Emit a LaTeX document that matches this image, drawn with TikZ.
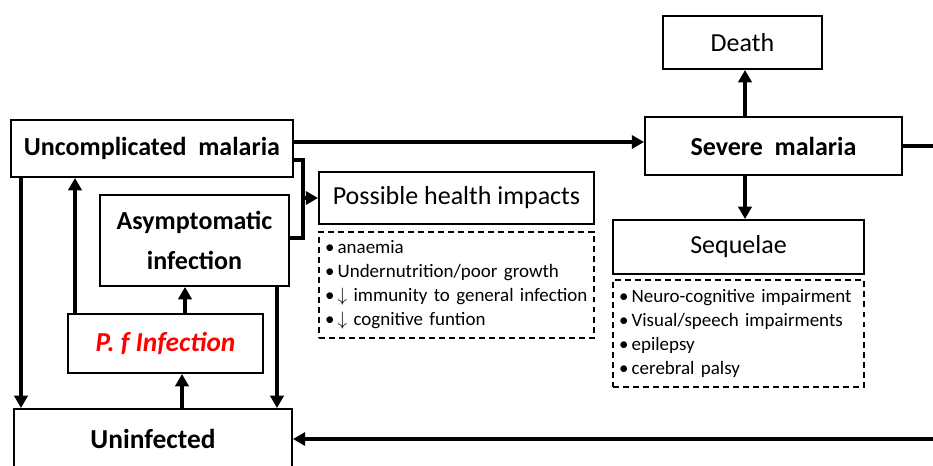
\documentclass[tikz,border=0pt]{standalone}
\usepackage{fontspec}
\setmainfont{Carlito}
\usetikzlibrary{arrows.meta}

\begin{document}
\begin{tikzpicture}[x=0.02cm,y=-0.02cm,
		box/.style={draw,line width=1.1pt,inner sep=0pt,align=center},
		hd/.style={box,font=\fontsize{14.8}{22.7}\selectfont\bfseries},
		tx/.style={box,font=\fontsize{14.8}{18}\selectfont},
		lst/.style={draw,line width=1.1pt,dash pattern=on 3.4pt off 2.3pt,inner xsep=0.12cm,inner ysep=0pt,align=left,font=\fontsize{10.8}{13.6}\selectfont},
		arr/.style={-{Triangle[length=7pt,width=7.5pt]},line width=2.2pt},
		bar/.style={-,line width=2.2pt}]
			\useasboundingbox (0,0) rectangle (933,466);
			\node [hd,minimum width=5.64cm,minimum height=1.14cm] (um) at (152,148.5) {Uncomplicated\ \ malaria};
			\node [hd,minimum width=3.78cm,minimum height=1.82cm] (ai) at (194.5,240.5) {Asymptomatic\\infection};
			\node [hd,minimum width=3.9cm,minimum height=1.18cm,text=red,font=\fontsize{15.6}{18}\selectfont\bfseries\itshape] (pf) at (165.5,343.5) {P.\ f Infection};
			\node [hd,minimum width=5.56cm,minimum height=1.2cm,font=\fontsize{15.6}{18}\selectfont\bfseries] (ui) at (153,439) {Uninfected};
			\node [tx,minimum width=5.5cm,minimum height=1.04cm] (ph) at (456.5,198) {Possible health impacts};
			\node [lst,text width=5.26cm,minimum height=2.12cm] (pl) at (456.5,285) {•\,anaemia\\•\,Undernutrition/poor growth\\•\,$\downarrow$ immunity to general infection\\•\,$\downarrow$ cognitive funtion};
			\node [hd,minimum width=5.14cm,minimum height=1.16cm] (sm) at (773.5,146) {Severe\ \ malaria};
			\node [tx,minimum width=3.18cm,minimum height=1.06cm] (de) at (742.5,42.5) {Death};
			\node [tx,minimum width=5.02cm,minimum height=1.08cm] (sq) at (738.5,247) {Sequelae};
			\node [lst,text width=4.78cm,minimum height=2.14cm] (sl) at (738.5,333.5) {•\,Neuro-cognitive impairment\\•\,Visual/speech impairments\\•\,epilepsy\\•\,cerebral palsy};
			\coordinate (br) at (303,198);
			\coordinate (rt) at (955,146);
			\draw [arr] (um.east |- 0,142) to (sm.west |- 0,142);
			\draw [arr] (um.south -| 21,0) to (ui.north -| 21,0);
			\draw [arr] (pf.north -| 75,0) to (um.south -| 75,0);
			\draw [arr] (pf.north -| 185,0) to (ai.south -| 185,0);
			\draw [arr] (ui.north -| 182,0) to (pf.south -| 182,0);
			\draw [arr] (ai.south -| 277,0) to (ui.north -| 277,0);
			\draw [bar] (um.east |- 0,160) -| (br) |- (ai.east |- 0,238);
			\draw [arr] (br) to (ph.west);
			\draw [arr] (sm.north -| 745,0) to (de.south -| 745,0);
			\draw [arr] (sm.south -| 745,0) to (sq.north -| 745,0);
			\draw [arr] (sm.east) -- (rt) |- (ui.east);
		\end{tikzpicture}
\end{document}
